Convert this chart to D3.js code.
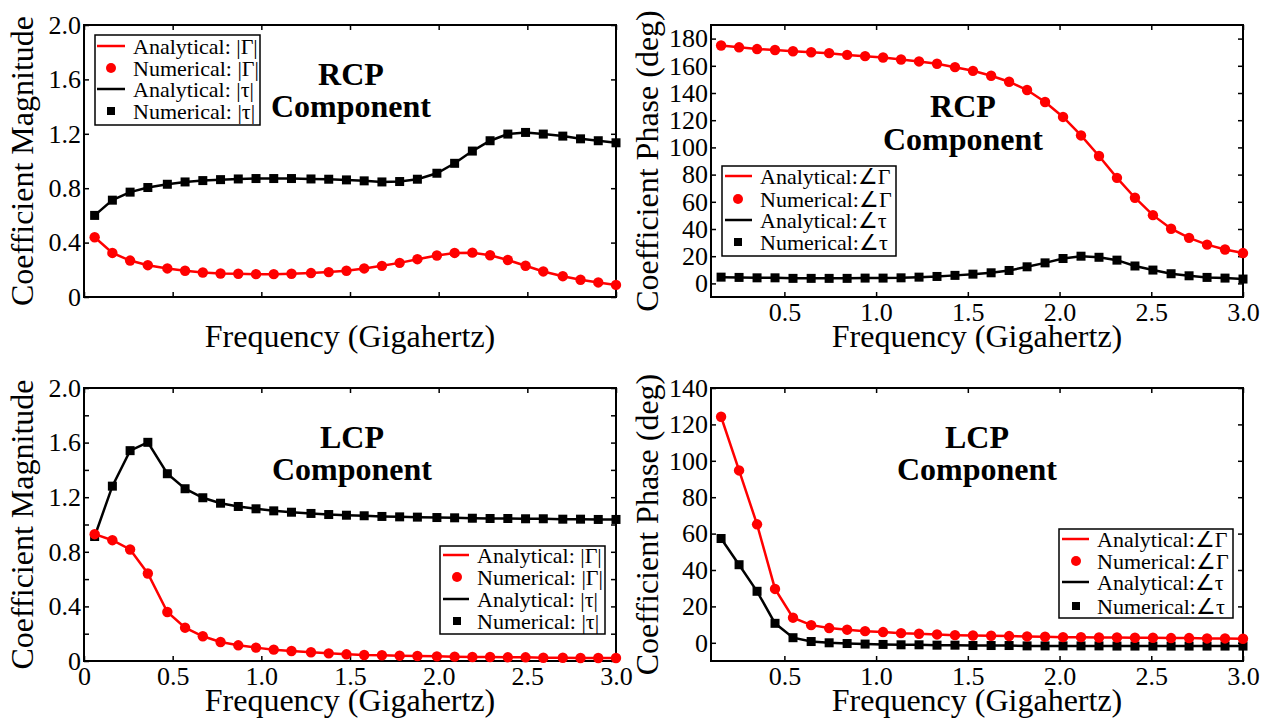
<!DOCTYPE html>
<html>
<head>
<meta charset="utf-8">
<script src="https://cdn.jsdelivr.net/npm/d3@7"></script>
<style>
  body { margin: 0; background: #fff; }
  svg { display: block; font-family: "Liberation Serif", "Times New Roman", serif; }
</style>
</head>
<body>
<svg id="chart" width="1267" height="721"></svg>
<script>
// frequencies (GHz) of the samples, left and right panels
const freqLeft = [0.06, 0.16, 0.26, 0.36, 0.47, 0.57, 0.67, 0.77, 0.87, 0.97,
  1.07, 1.17, 1.28, 1.38, 1.48, 1.58, 1.68, 1.78, 1.88, 1.99,
  2.09, 2.19, 2.29, 2.39, 2.49, 2.59, 2.70, 2.80, 2.90, 3.00];
const freqRight = [0.155, 0.253, 0.351, 0.449, 0.547, 0.646, 0.744, 0.842, 0.940, 1.038,
  1.136, 1.234, 1.332, 1.430, 1.528, 1.627, 1.725, 1.823, 1.921, 2.019,
  2.117, 2.215, 2.313, 2.411, 2.509, 2.608, 2.706, 2.804, 2.902, 3.000];

// RCP
const rcpGammaMag = [0.439, 0.324, 0.268, 0.234, 0.210, 0.193, 0.180, 0.173, 0.171, 0.168,
  0.168, 0.171, 0.176, 0.183, 0.193, 0.210, 0.229, 0.251, 0.278, 0.305,
  0.324, 0.326, 0.307, 0.272, 0.230, 0.188, 0.153, 0.127, 0.107, 0.089];
const rcpTauMag = [0.600, 0.712, 0.771, 0.805, 0.829, 0.846, 0.856, 0.863, 0.868, 0.871,
  0.871, 0.871, 0.868, 0.866, 0.861, 0.854, 0.846, 0.849, 0.866, 0.910,
  0.983, 1.073, 1.149, 1.198, 1.210, 1.198, 1.183, 1.163, 1.149, 1.134];
const rcpGammaPhase = [174.9, 173.6, 172.3, 171.6, 170.7, 170.0, 169.3, 168.0, 167.1, 166.1,
  164.6, 163.2, 161.5, 159.0, 156.3, 152.7, 148.3, 142.2, 133.4, 122.4,
  108.8, 93.7, 77.6, 63.0, 50.2, 40.2, 33.5, 28.5, 24.9, 22.3];
const rcpTauPhase = [4.6, 4.4, 4.1, 4.1, 3.7, 3.7, 3.7, 3.7, 3.9, 3.9,
  4.1, 4.6, 5.1, 5.9, 6.8, 7.8, 9.5, 12.2, 15.1, 18.3,
  20.0, 19.2, 17.1, 12.8, 9.8, 7.1, 5.6, 4.4, 3.9, 3.2];

// LCP
const lcpGammaMag = [0.929, 0.885, 0.817, 0.641, 0.359, 0.244, 0.181, 0.139, 0.115, 0.098,
  0.083, 0.073, 0.064, 0.056, 0.049, 0.044, 0.042, 0.039, 0.037, 0.034,
  0.032, 0.029, 0.029, 0.027, 0.027, 0.024, 0.024, 0.022, 0.022, 0.022];
const lcpTauMag = [0.912, 1.281, 1.541, 1.602, 1.372, 1.262, 1.196, 1.156, 1.132, 1.115,
  1.100, 1.090, 1.081, 1.073, 1.068, 1.064, 1.059, 1.056, 1.054, 1.051,
  1.049, 1.046, 1.044, 1.044, 1.042, 1.042, 1.039, 1.039, 1.037, 1.037];
const lcpGammaPhase = [124.2, 94.7, 65.1, 29.6, 13.8, 9.7, 8.1, 7.2, 6.4, 5.9,
  5.3, 5.0, 4.6, 4.2, 4.0, 3.9, 3.7, 3.5, 3.3, 3.1,
  3.1, 2.9, 2.9, 2.8, 2.8, 2.6, 2.6, 2.4, 2.4, 2.2];
const lcpTauPhase = [57.3, 42.9, 28.3, 10.7, 2.8, 0.7, 0.0, -0.4, -0.7, -0.9,
  -1.1, -1.1, -1.3, -1.3, -1.5, -1.5, -1.5, -1.7, -1.7, -1.7,
  -1.7, -1.7, -1.8, -1.8, -1.8, -1.8, -1.8, -1.8, -1.8, -1.8];

// ticks and labels
const freqTicks = [0, 0.5, 1.0, 1.5, 2.0, 2.5, 3.0];
const magTicks = [0, 0.4, 0.8, 1.2, 1.6, 2.0];
const magMinorTicks = [0, 0.2, 0.4, 0.6, 0.8, 1.0, 1.2, 1.4, 1.6, 1.8, 2.0];
const rcpPhaseTicks = [0, 20, 40, 60, 80, 100, 120, 140, 160, 180];
const lcpPhaseTicks = [0, 20, 40, 60, 80, 100, 120, 140];
const magLegend = ['Analytical: |Γ|', 'Numerical: |Γ|', 'Analytical: |τ|', 'Numerical: |τ|'];
const phaseLegend = ['Analytical:∠Γ', 'Numerical:∠Γ', 'Analytical:∠τ', 'Numerical:∠τ'];

const svg = d3.select('#chart');

const panels = [
  {
    left: 84, top: 25, width: 532, height: 272,
    xDomain: [0, 3], yDomain: [0, 2],
    xTicks: freqTicks, xLabels: false,
    yTicks: magTicks, yFmt: (d) => (d === 0 ? '0' : d.toFixed(1)),
    yTitle: 'Coefficient Magnitude', yTitleOff: 51,
    freq: freqLeft, gamma: rcpGammaMag, tau: rcpTauMag,
    title: ['RCP', 'Component'], titleX: 351, titleY: [85, 117],
    legend: magLegend, lg: { x0: 95, x1: 260, y0: 35, y1: 125, rows: [46, 68, 89, 111], l0: 97, l1: 125, m: 111, t: 133 }
  },
  {
    left: 711, top: 25, width: 532, height: 272,
    xDomain: [0.1, 3], yDomain: [-10, 190],
    xTicks: freqTicks.filter((d) => d > 0), xLabels: true,
    yTicks: rcpPhaseTicks, yFmt: (d) => String(d),
    yTitle: 'Coefficient Phase (deg)', yTitleOff: 53,
    freq: freqRight, gamma: rcpGammaPhase, tau: rcpTauPhase,
    title: ['RCP', 'Component'], titleX: 963, titleY: [117, 150],
    legend: phaseLegend, lg: { x0: 722, x1: 896, y0: 166, y1: 256, rows: [176, 199, 220, 242], l0: 725, l1: 752, m: 738, t: 760 }
  },
  {
    left: 84, top: 388, width: 532, height: 273,
    xDomain: [0, 3], yDomain: [0, 2],
    xTicks: freqTicks, xLabels: true,
    yTicks: magMinorTicks,
    yFmt: (d) => (Math.abs(d / 0.4 - Math.round(d / 0.4)) < 1e-6 ? (d === 0 ? '0' : d.toFixed(1)) : ''),
    yTitle: 'Coefficient Magnitude', yTitleOff: 51,
    freq: freqLeft, gamma: lcpGammaMag, tau: lcpTauMag,
    title: ['LCP', 'Component'], titleX: 352, titleY: [448, 480],
    legend: magLegend, lg: { x0: 440, x1: 605, y0: 546, y1: 634, rows: [555, 577, 599, 621], l0: 443, l1: 469, m: 457, t: 477 }
  },
  {
    left: 711, top: 388, width: 532, height: 273,
    xDomain: [0.1, 3], yDomain: [-10, 140],
    xTicks: freqTicks.filter((d) => d > 0), xLabels: true,
    yTicks: lcpPhaseTicks, yFmt: (d) => String(d),
    yTitle: 'Coefficient Phase (deg)', yTitleOff: 53,
    freq: freqRight, gamma: lcpGammaPhase, tau: lcpTauPhase,
    title: ['LCP', 'Component'], titleX: 977, titleY: [448, 480],
    legend: phaseLegend, lg: { x0: 1059, x1: 1233, y0: 529, y1: 618, rows: [539, 561, 582, 606], l0: 1062, l1: 1089, m: 1076, t: 1097 }
  }
];

panels.forEach(drawPanel);

function drawPanel(p) {
  const x = d3.scaleLinear().domain(p.xDomain).range([p.left, p.left + p.width]);
  const y = d3.scaleLinear().domain(p.yDomain).range([p.top + p.height, p.top]);
  const bottom = p.top + p.height;
  const right = p.left + p.width;

  const fmtX = (d) => (d === 0 ? '0' : d.toFixed(1));

  // bottom axis (inward ticks)
  const gx = svg.append('g')
    .attr('transform', `translate(0, ${bottom})`)
    .call(d3.axisBottom(x).tickValues(p.xTicks).tickSizeInner(-5).tickSizeOuter(0)
      .tickPadding(6).tickFormat(p.xLabels ? fmtX : ''));
  // top axis mirror
  const gxt = svg.append('g')
    .attr('transform', `translate(0, ${p.top})`)
    .call(d3.axisTop(x).tickValues(p.xTicks).tickSizeInner(-5).tickSizeOuter(0).tickFormat(''));
  // left axis
  const gy = svg.append('g')
    .attr('transform', `translate(${p.left}, 0)`)
    .call(d3.axisLeft(y).tickValues(p.yTicks).tickSizeInner(-5).tickSizeOuter(0)
      .tickPadding(3).tickFormat(p.yFmt));
  // right axis mirror
  const gyr = svg.append('g')
    .attr('transform', `translate(${right}, 0)`)
    .call(d3.axisRight(y).tickValues(p.yTicks).tickSizeInner(-5).tickSizeOuter(0).tickFormat(''));

  [gx, gxt, gy, gyr].forEach((g) => {
    g.attr('font-family', null).attr('font-size', 26);
    g.select('.domain').remove();
    g.selectAll('line').attr('stroke', '#000').attr('stroke-width', 1.5);
    g.selectAll('text').attr('fill', '#000');
  });

  // frame
  svg.append('rect')
    .attr('x', p.left).attr('y', p.top)
    .attr('width', p.width).attr('height', p.height)
    .attr('fill', 'none').attr('stroke', '#000').attr('stroke-width', 2);

  // axis titles
  svg.append('text')
    .attr('x', p.left + p.width / 2).attr('y', bottom + 50)
    .attr('text-anchor', 'middle').attr('font-size', 32)
    .text('Frequency (Gigahertz)');
  svg.append('text')
    .attr('transform', `translate(${p.left - p.yTitleOff}, ${p.top + p.height / 2}) rotate(-90)`)
    .attr('text-anchor', 'middle').attr('font-size', 32)
    .text(p.yTitle);

  // series
  const line = d3.line().x((d) => x(d[0])).y((d) => y(d[1]));
  const tauPts = p.freq.map((f, i) => [f, p.tau[i]]);
  const gammaPts = p.freq.map((f, i) => [f, p.gamma[i]]);

  svg.append('path').datum(tauPts)
    .attr('d', line).attr('fill', 'none').attr('stroke', '#000').attr('stroke-width', 2.5);
  svg.append('g').selectAll('rect').data(tauPts).join('rect')
    .attr('x', (d) => x(d[0]) - 4.5).attr('y', (d) => y(d[1]) - 4.5)
    .attr('width', 9).attr('height', 9).attr('fill', '#000');

  svg.append('path').datum(gammaPts)
    .attr('d', line).attr('fill', 'none').attr('stroke', '#ff0000').attr('stroke-width', 2.5);
  svg.append('g').selectAll('circle').data(gammaPts).join('circle')
    .attr('cx', (d) => x(d[0])).attr('cy', (d) => y(d[1]))
    .attr('r', 5.2).attr('fill', '#ff0000');

  // title
  p.title.forEach((t, i) => {
    svg.append('text')
      .attr('x', p.titleX).attr('y', p.titleY[i])
      .attr('text-anchor', 'middle').attr('font-size', 32).attr('font-weight', 'bold')
      .text(t);
  });

  // legend
  const lg = p.lg;
  const leg = svg.append('g');
  leg.append('rect')
    .attr('x', lg.x0).attr('y', lg.y0)
    .attr('width', lg.x1 - lg.x0).attr('height', lg.y1 - lg.y0)
    .attr('fill', '#fff').attr('stroke', '#000').attr('stroke-width', 1.5);
  const colors = ['#ff0000', '#ff0000', '#000', '#000'];
  p.legend.forEach((label, i) => {
    const ry = lg.rows[i];
    if (i % 2 === 0) {
      leg.append('line')
        .attr('x1', lg.l0).attr('x2', lg.l1).attr('y1', ry).attr('y2', ry)
        .attr('stroke', colors[i]).attr('stroke-width', 2.5);
    } else if (i === 1) {
      leg.append('circle').attr('cx', lg.m).attr('cy', ry).attr('r', 5).attr('fill', colors[i]);
    } else {
      leg.append('rect').attr('x', lg.m - 4).attr('y', ry - 4).attr('width', 8).attr('height', 8).attr('fill', colors[i]);
    }
    leg.append('text')
      .attr('x', lg.t).attr('y', ry).attr('dy', '0.35em')
      .attr('font-size', 22).text(label);
  });
}
</script>
</body>
</html>
